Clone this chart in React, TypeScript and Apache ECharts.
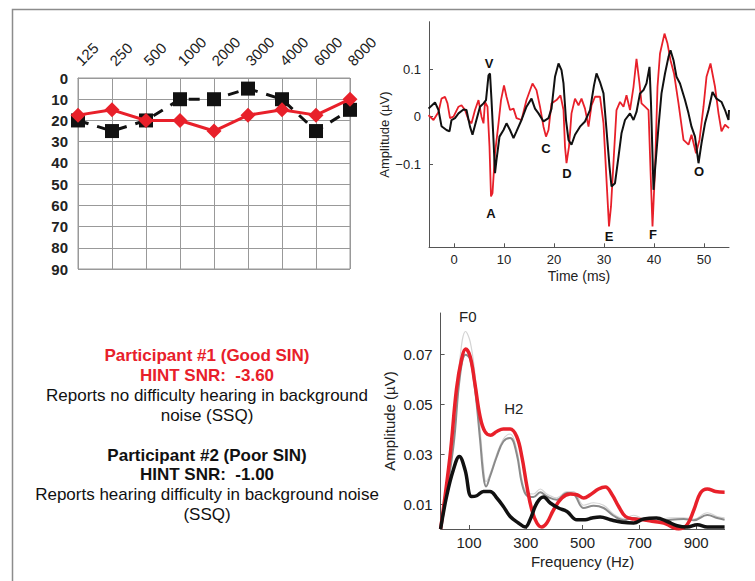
import React, { useEffect, useRef } from "react";
import * as echarts from "echarts";

const FONT = "'Liberation Sans', Arial, Helvetica, sans-serif";
const RED = "#e8202a";
const BLACK = "#111111";

// Audiogram
const freqLabels = ["125", "250", "500", "1000", "2000", "3000", "4000", "6000", "8000"];
const p1Thresholds = [17.5, 15, 20, 20, 25, 17.5, 15, 17.5, 10];
const p2Thresholds = [20, 25, 20, 10, 10, 5, 10, 25, 15];

// Waveform (time in ms, amplitude in µV)
const redTimes = [-5.1, -4.1, -3.1, -2.5, -1.8, -1.3, -0.8, -0.1, 0.9, 1.5, 2.2, 2.9, 3.5, 4.2, 4.9, 5.5, 5.9, 6.2, 6.7, 7.1, 7.4, 7.7, 8.2, 8.9, 9.4, 10, 10.5, 11.2, 11.9, 12.5, 13.5, 14.5, 15.7, 16.5, 17.2, 17.9, 18.4, 18.9, 19.5, 20.5, 21.3, 21.9, 22.2, 22.5, 23, 23.5, 24.2, 24.9, 25.5, 26.2, 26.9, 27.5, 28.2, 29.2, 29.9, 30.5, 31, 31.4, 32, 32.5, 33.2, 33.9, 34.5, 35.2, 35.9, 36.5, 37.1, 37.5, 38.2, 38.9, 39.3, 39.7, 40.2, 40.7, 41.2, 42.1, 42.7, 43.3, 44, 44.9, 45.9, 46.9, 47.5, 48.4, 49.1, 49.9, 50.5, 51.3, 52.2, 52.9, 53.5, 54.2, 55];
const redAmps = [0.003, -0.007, 0.01, 0.038, 0.042, 0.028, -0.003, 0, 0.021, 0.024, 0.014, -0.007, -0.014, 0.014, 0.035, 0, -0.014, 0.031, 0.021, -0.063, -0.168, -0.161, -0.077, -0.014, 0.035, 0.066, 0.042, 0.014, 0.017, -0.003, -0.007, 0.035, 0.07, 0.056, 0.021, -0.021, -0.042, -0.028, 0.028, 0.035, 0.045, 0.014, -0.063, -0.098, -0.063, 0.007, 0.038, 0.024, 0.038, 0.017, -0.021, 0.024, 0.042, 0.042, -0.014, -0.133, -0.231, -0.189, -0.077, 0.014, 0.031, 0.021, 0.045, 0.014, 0.063, 0.122, 0.07, 0.028, 0.021, 0.014, -0.112, -0.231, -0.112, 0.063, 0.133, 0.175, 0.154, 0.119, 0.091, 0.028, -0.049, -0.059, -0.038, -0.077, -0.049, 0.021, 0.084, 0.112, 0.063, 0.007, -0.031, -0.017, -0.024];
const blackTimes = [-5.1, -3.8, -3.1, -2.5, -1.5, -0.9, -0.5, 0.2, 0.9, 1.9, 2.5, 3.2, 3.7, 4.4, 5.2, 5.9, 6.4, 6.9, 7.2, 7.5, 7.9, 8.2, 8.5, 9.1, 9.9, 10.5, 11.2, 11.9, 12.5, 13.5, 14.5, 15.5, 16.2, 16.9, 17.9, 18.9, 19.5, 20.2, 20.9, 21.5, 21.9, 22.4, 22.9, 23.5, 24.2, 25.2, 26.2, 27.2, 28, 28.5, 29.2, 29.9, 30.5, 31.1, 31.5, 32.2, 32.9, 33.5, 34.2, 35.2, 35.9, 36.5, 37.2, 37.9, 38.5, 39.1, 39.4, 39.9, 40.2, 40.9, 41.5, 42.2, 42.9, 43.3, 43.9, 44.5, 45.2, 46.2, 46.9, 47.5, 48.2, 48.9, 49.5, 50.2, 50.9, 51.7, 52.5, 53.5, 54.2, 54.9, 55];
const blackAmps = [0.017, 0.03, 0.014, -0.02, -0.028, -0.031, -0.007, -0.003, 0.007, 0.015, 0.014, -0.021, -0.038, -0.01, 0.021, 0.028, 0.035, 0.087, 0.091, 0.035, -0.049, -0.119, -0.091, -0.042, -0.028, -0.014, -0.028, -0.045, -0.031, -0.007, 0.021, 0.038, 0.017, 0.007, -0.01, -0.003, 0.017, 0.084, 0.112, 0.098, 0.07, -0.007, -0.049, -0.059, -0.038, -0.021, -0.01, 0.014, 0.066, 0.091, 0.073, 0.049, -0.028, -0.105, -0.147, -0.14, -0.084, -0.035, -0.007, 0.007, -0.007, 0.01, 0.049, 0.056, 0.07, 0.105, 0.028, -0.154, -0.112, -0.021, 0.049, 0.091, 0.126, 0.14, 0.119, 0.084, 0.07, 0.035, 0.007, -0.021, -0.042, -0.098, -0.056, -0.014, 0.014, 0.052, 0.038, 0.031, 0.014, -0.007, 0.014];
const peakNames = ["V", "A", "C", "D", "E", "F", "O"];
const peakTimes = [7, 7.4, 18.4, 22.6, 31, 39.8, 49];
const peakAmps = [0.113, -0.203, -0.068, -0.119, -0.253, -0.249, -0.116];

// Spectrum (frequency Hz, amplitude µV)
const redFreqs = [0, 33, 56, 74, 88, 104, 121, 139, 156, 176, 198, 221, 245, 268, 286, 304, 321, 339, 356, 374, 398, 427, 456, 480, 504, 527, 556, 580, 604, 627, 651, 680, 715, 751, 786, 815, 839, 868, 892, 915, 939, 968, 1000];
const redSpec = [0, 0.029, 0.056, 0.068, 0.072, 0.069, 0.058, 0.045, 0.039, 0.0375, 0.039, 0.04, 0.04, 0.037, 0.029, 0.017, 0.0077, 0.0024, 0.0008, 0.0024, 0.0077, 0.0124, 0.014, 0.0137, 0.0124, 0.0137, 0.016, 0.0168, 0.0137, 0.009, 0.005, 0.004, 0.0037, 0.003, 0.0024, 0.0008, 0, 0.0017, 0.0077, 0.0144, 0.016, 0.015, 0.0147];
const blackFreqs = [0, 21, 45, 66, 86, 109, 127, 151, 174, 198, 221, 245, 274, 298, 315, 339, 362, 386, 415, 445, 480, 509, 533, 562, 598, 639, 680, 715, 760, 798, 833, 868, 904, 939, 1000];
const blackSpec = [0, 0.013, 0.0237, 0.029, 0.0237, 0.013, 0.0133, 0.015, 0.015, 0.0124, 0.009, 0.005, 0.0024, 0.0008, 0.0037, 0.0104, 0.0128, 0.0104, 0.0084, 0.007, 0.0037, 0.0037, 0.0044, 0.0048, 0.0037, 0.0027, 0.0024, 0.004, 0.0044, 0.003, 0.0013, 0.0008, 0.0017, 0.0008, 0.0008];
const grayFreqs = [0, 45, 68, 88, 104, 121, 139, 151, 160, 174, 198, 221, 245, 268, 286, 304, 327, 351, 374, 409, 445, 468, 504, 539, 574, 609, 645, 680, 715, 762, 809, 856, 892, 939, 974, 1000];
const graySpec = [0, 0.033, 0.061, 0.0697, 0.068, 0.056, 0.0357, 0.021, 0.017, 0.021, 0.029, 0.035, 0.0364, 0.03, 0.0184, 0.0133, 0.0128, 0.0147, 0.013, 0.0117, 0.0144, 0.014, 0.0084, 0.0093, 0.0084, 0.0053, 0.0035, 0.0044, 0.0035, 0.003, 0.0037, 0.004, 0.0035, 0.0056, 0.0044, 0.0037];
const lightSpec = [0, 0.036, 0.068, 0.079, 0.075, 0.062, 0.04, 0.025, 0.019, 0.022, 0.03, 0.036, 0.038, 0.032, 0.02, 0.0145, 0.014, 0.016, 0.014, 0.0125, 0.015, 0.015, 0.0095, 0.0105, 0.0095, 0.006, 0.0042, 0.0055, 0.004, 0.0035, 0.0045, 0.0045, 0.004, 0.0065, 0.005, 0.0045];
const specLabelNames = ["F0", "H2"];
const specLabelFreqs = [96, 258];
const specLabelAmps = [0.0852, 0.0484];

// Text block
const textLines = [
  { text: "Participant #1 (Good SIN)", color: RED, bold: true },
  { text: "HINT SNR:  -3.60", color: RED, bold: true },
  { text: "Reports no difficulty hearing in background", color: BLACK, bold: false },
  { text: "noise (SSQ)", color: BLACK, bold: false },
  { text: "Participant #2 (Poor SIN)", color: BLACK, bold: true },
  { text: "HINT SNR:  -1.00", color: BLACK, bold: true },
  { text: "Reports hearing difficulty in background noise", color: BLACK, bold: false },
  { text: "(SSQ)", color: BLACK, bold: false },
];
const textLineY = [355, 375, 395, 415, 455, 474, 494, 514];

const zip = (a: number[], b: number[]) => a.map((v, i) => [v, b[i]]);

export default function App() {
  const ref = useRef<HTMLDivElement>(null);
  useEffect(() => {
    if (!ref.current) return;
    const chart = echarts.init(ref.current, undefined, { renderer: "svg" });
    const axisGray = "#555";
    const option: any = {
      animation: false,
      backgroundColor: "#ffffff",
      textStyle: { fontFamily: FONT },
      grid: [
        { left: 78, top: 78, width: 272, height: 191, show: true, borderColor: "#999", borderWidth: 1, containLabel: false },
        { left: 429, top: 21.7, width: 300, height: 225.6, containLabel: false },
        { left: 440.6, top: 313, width: 284, height: 216, containLabel: false },
      ],
      xAxis: [
        {
          gridIndex: 0, type: "category", position: "top", boundaryGap: false, data: freqLabels,
          axisLine: { show: true, lineStyle: { color: "#999" } },
          axisTick: { show: false },
          axisLabel: { rotate: 45, margin: 15, fontSize: 15, color: "#222", fontFamily: FONT },
          splitLine: { show: true, lineStyle: { color: "#999", width: 1 } },
        },
        {
          gridIndex: 1, type: "value", min: -5, max: 55,
          axisLine: { show: true, onZero: false, lineStyle: { color: axisGray } },
          axisTick: { show: true, inside: true, length: 4, customValues: [0, 10, 20, 30, 40, 50], lineStyle: { color: axisGray } },
          axisLabel: { customValues: [0, 10, 20, 30, 40, 50], fontSize: 13, color: "#222", margin: 6, fontFamily: FONT },
          splitLine: { show: false },
          name: "Time (ms)", nameLocation: "middle", nameGap: 22,
          nameTextStyle: { fontSize: 14, color: "#222", fontFamily: FONT },
        },
        {
          gridIndex: 2, type: "value", min: 0, max: 1000,
          axisLine: { show: true, onZero: false, lineStyle: { color: axisGray } },
          axisTick: { show: true, inside: true, length: 4, customValues: [100, 300, 500, 700, 900], lineStyle: { color: axisGray } },
          axisLabel: { customValues: [100, 300, 500, 700, 900], fontSize: 15, color: "#222", margin: 6, fontFamily: FONT },
          splitLine: { show: false },
          name: "Frequency (Hz)", nameLocation: "middle", nameGap: 25,
          nameTextStyle: { fontSize: 15, color: "#222", fontFamily: FONT },
        },
      ],
      yAxis: [
        {
          gridIndex: 0, type: "value", inverse: true, min: 0, max: 90, interval: 10,
          axisLine: { show: true, lineStyle: { color: "#999" } },
          axisTick: { show: false },
          axisLabel: { fontSize: 15, fontWeight: "bold", color: "#222", margin: 10, fontFamily: FONT },
          splitLine: { show: true, lineStyle: { color: "#999", width: 1 } },
        },
        {
          gridIndex: 1, type: "value", min: -0.275, max: 0.2,
          axisLine: { show: true, onZero: false, lineStyle: { color: axisGray } },
          axisTick: { show: true, inside: true, length: 4, customValues: [-0.1, 0, 0.1], lineStyle: { color: axisGray } },
          axisLabel: {
            customValues: [-0.1, 0, 0.1], fontSize: 13, color: "#222", margin: 8, fontFamily: FONT,
            formatter: (v: number) => (Math.abs(v) < 1e-9 ? "0" : v < 0 ? "\u2212" + Math.abs(v).toFixed(1) : v.toFixed(1)),
          },
          splitLine: { show: false },
          name: "Amplitude (\u00b5V)", nameLocation: "middle", nameGap: 38, nameRotate: 90,
          nameTextStyle: { fontSize: 13, color: "#222", fontFamily: FONT },
        },
        {
          gridIndex: 2, type: "value", min: 0, max: 0.0864,
          axisLine: { show: true, onZero: false, lineStyle: { color: axisGray } },
          axisTick: { show: true, inside: true, length: 4, customValues: [0.01, 0.03, 0.05, 0.07], lineStyle: { color: axisGray } },
          axisLabel: {
            customValues: [0.01, 0.03, 0.05, 0.07], fontSize: 15, color: "#222", margin: 8, fontFamily: FONT,
            formatter: (v: number) => v.toFixed(2),
          },
          splitLine: { show: false },
          name: "Amplitude (\u00b5V)", nameLocation: "middle", nameGap: 44, nameRotate: 90,
          nameTextStyle: { fontSize: 15, color: "#222", fontFamily: FONT },
        },
      ],
      series: [
        {
          type: "line", xAxisIndex: 0, yAxisIndex: 0, data: p2Thresholds,
          symbol: "rect", symbolSize: 14, itemStyle: { color: BLACK },
          lineStyle: { color: BLACK, width: 3, type: [11, 9] }, z: 3,
        },
        {
          type: "line", xAxisIndex: 0, yAxisIndex: 0, data: p1Thresholds,
          symbol: "diamond", symbolSize: 15, itemStyle: { color: RED },
          lineStyle: { color: RED, width: 3 }, z: 4,
        },
        {
          type: "line", xAxisIndex: 1, yAxisIndex: 1, data: zip(redTimes, redAmps),
          showSymbol: false, symbol: "none", lineStyle: { color: RED, width: 1.8 }, z: 3,
        },
        {
          type: "line", xAxisIndex: 1, yAxisIndex: 1, data: zip(blackTimes, blackAmps),
          showSymbol: false, symbol: "none", lineStyle: { color: BLACK, width: 2 }, z: 4,
        },
        {
          type: "scatter", xAxisIndex: 1, yAxisIndex: 1, symbolSize: 0,
          itemStyle: { opacity: 1 },
          data: peakNames.map((n, i) => ({ value: [peakTimes[i], peakAmps[i]], name: n })),
          label: { show: true, position: "inside", formatter: (p: any) => p.name, fontSize: 13, fontWeight: "bold", color: BLACK, fontFamily: FONT },
          silent: true, z: 5,
        },
        {
          type: "line", xAxisIndex: 2, yAxisIndex: 2, data: zip(grayFreqs, lightSpec), smooth: 0.4,
          showSymbol: false, symbol: "none", lineStyle: { color: "#d4d4d4", width: 1.2 }, z: 2,
        },
        {
          type: "line", xAxisIndex: 2, yAxisIndex: 2, data: zip(grayFreqs, graySpec), smooth: 0.4,
          showSymbol: false, symbol: "none", lineStyle: { color: "#8a8a8a", width: 2 }, z: 3,
        },
        {
          type: "line", xAxisIndex: 2, yAxisIndex: 2, data: zip(redFreqs, redSpec), smooth: 0.4,
          showSymbol: false, symbol: "none", lineStyle: { color: RED, width: 3.5 }, z: 4,
        },
        {
          type: "line", xAxisIndex: 2, yAxisIndex: 2, data: zip(blackFreqs, blackSpec), smooth: 0.4,
          showSymbol: false, symbol: "none", lineStyle: { color: BLACK, width: 3.5 }, z: 5,
        },
        {
          type: "scatter", xAxisIndex: 2, yAxisIndex: 2, symbolSize: 0,
          itemStyle: { opacity: 1 },
          data: specLabelNames.map((n, i) => ({ value: [specLabelFreqs[i], specLabelAmps[i]], name: n })),
          label: { show: true, position: "inside", formatter: (p: any) => p.name, fontSize: 15, color: "#222", fontFamily: FONT },
          silent: true, z: 6,
        },
      ],
      graphic: [
        {
          type: "rect", left: 10, top: 7, z: -10, silent: true,
          shape: { x: 0, y: 0, width: 760, height: 590 },
          style: { fill: "none", stroke: "#8c8c8c", lineWidth: 1.5 },
        },
        ...textLines.map((l, i) => ({
          type: "text", x: 207, y: textLineY[i], silent: true,
          style: {
            text: l.text, fill: l.color, font: `${l.bold ? "bold " : ""}17px ${FONT}`,
            textAlign: "center", textVerticalAlign: "middle",
          },
        })),
      ],
    };
    chart.setOption(option);
    return () => chart.dispose();
  }, []);
  return <div ref={ref} style={{ position: "fixed", left: 0, top: 0, width: 755, height: 581, background: "#fff" }} />;
}
